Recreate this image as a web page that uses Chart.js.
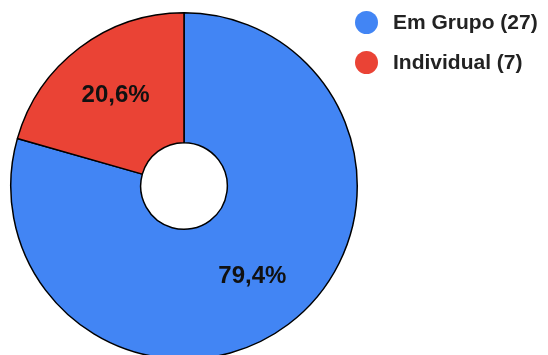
<!DOCTYPE html>
<html>
<head>
<meta charset="utf-8">
<script src="https://cdn.jsdelivr.net/npm/chart.js@4"></script>
<style>
  html, body { margin: 0; padding: 0; background: #fff; overflow: hidden; }
  #wrap { position: relative; width: 548px; height: 355px; }
  #myChart { position: absolute; left: 0; top: 0; }
  #legend { position: absolute; left: 355px; top: 8px; font-family: "Liberation Sans", Arial, sans-serif; font-weight: bold; font-size: 21px; color: #222; }
  #legend div { display: flex; align-items: center; height: 28px; margin-bottom: 12px; }
  #legend span.dot { display: inline-block; width: 23px; height: 23px; border-radius: 50%; margin-right: 15px; }
</style>
</head>
<body>
<div id="wrap">
  <canvas id="myChart" width="548" height="360"></canvas>
  <div id="legend"></div>
</div>
<script>
const categorias = ["Em Grupo", "Individual"];
const valores = [27, 7];
const cores = ["#4285F4", "#EA4335"];

const total = valores.reduce((a, b) => a + b, 0);

// legenda em HTML
const legend = document.getElementById("legend");
categorias.forEach((nome, i) => {
  const row = document.createElement("div");
  const dot = document.createElement("span");
  dot.className = "dot";
  dot.style.background = cores[i];
  row.appendChild(dot);
  row.appendChild(document.createTextNode(nome + " (" + valores[i] + ")"));
  legend.appendChild(row);
});

// rótulos de porcentagem dentro das fatias
const rotulos = {
  id: "rotulos",
  afterDatasetsDraw(chart) {
    const c = chart.ctx;
    const meta = chart.getDatasetMeta(0);
    c.save();
    c.font = "bold 24px 'Liberation Sans', Arial, sans-serif";
    c.fillStyle = "#111";
    c.textAlign = "center";
    c.textBaseline = "middle";
    meta.data.forEach((arc, i) => {
      const p = arc.getProps(["x", "y", "startAngle", "endAngle", "innerRadius", "outerRadius"], true);
      const ang = (p.startAngle + p.endAngle) / 2;
      const r = p.innerRadius + (p.outerRadius - p.innerRadius) * 0.54;
      const txt = (valores[i] / total * 100).toFixed(1).replace(".", ",") + "%";
      c.fillText(txt, p.x + Math.cos(ang) * r, p.y + Math.sin(ang) * r);
    });
    c.restore();
  }
};

const ctx = document.getElementById("myChart");
new Chart(ctx, {
  type: "doughnut",
  data: {
    labels: categorias,
    datasets: [
      {
        data: valores,
        backgroundColor: cores,
        borderColor: "#000",
        borderWidth: 1.5,
      }
    ],
  },
  options: {
    responsive: false,
    animation: false,
    cutout: "25%",
    layout: {
      padding: { left: 10, right: 190, top: 12, bottom: 0 },
    },
    plugins: {
      legend: { display: false },
      tooltip: { enabled: false },
    },
  },
  plugins: [rotulos],
});
</script>
</body>
</html>
